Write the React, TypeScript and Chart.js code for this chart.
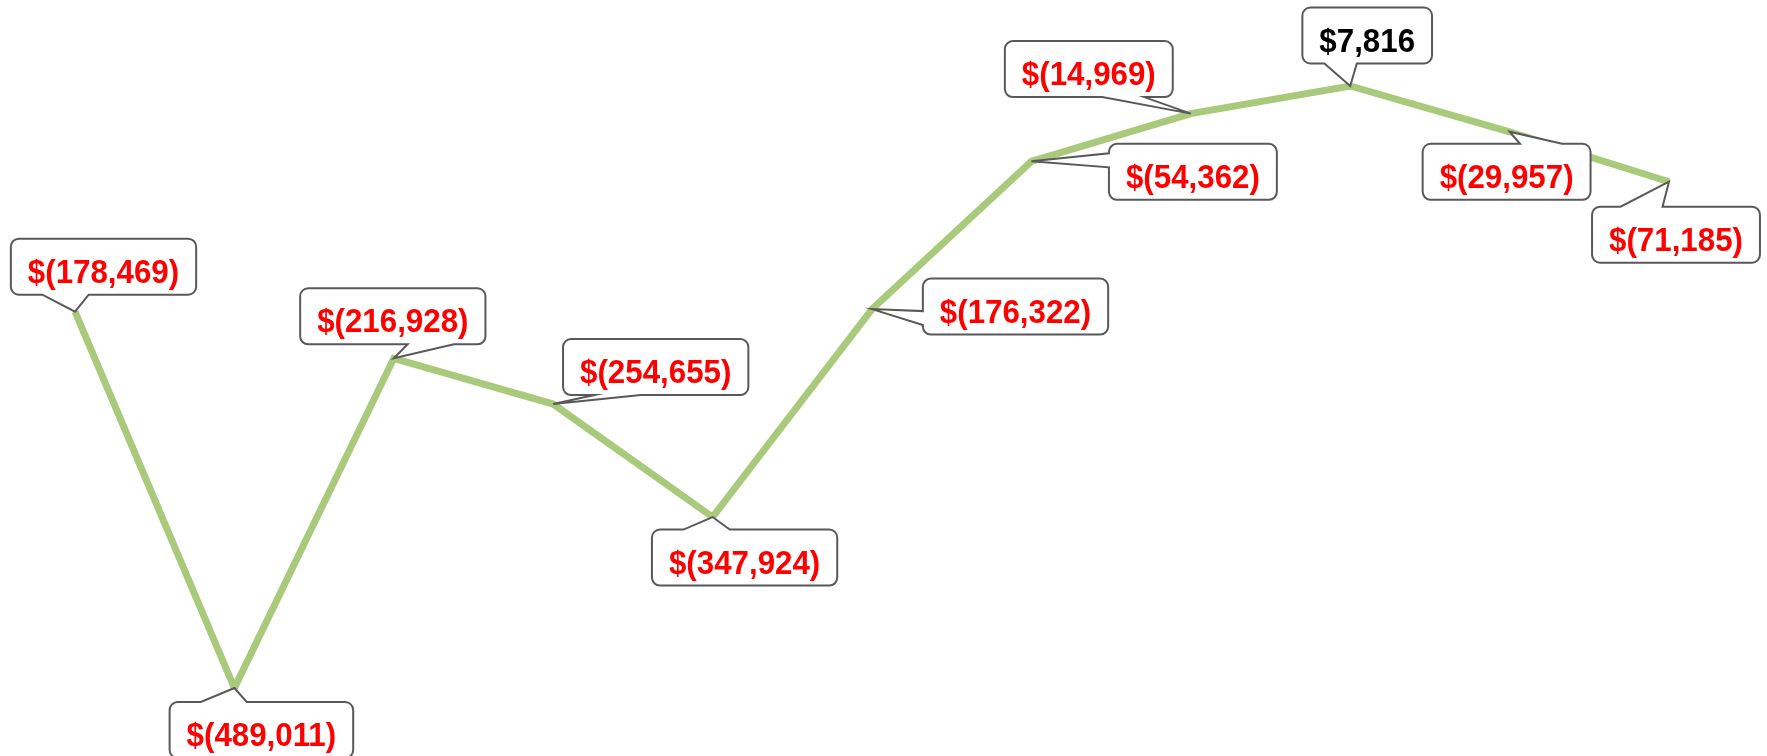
import React, { useEffect, useRef } from "react";
import { Chart, registerables } from "chart.js";

Chart.register(...registerables);

const categories = ["P1", "P2", "P3", "P4", "P5", "P6", "P7", "P8", "P9", "P10", "P11"];
const values = [-178469, -489011, -216928, -254655, -347924, -176322, -54362, -14969, 7816, -29957, -71185];

// callout placement (style only): box centre offset from point, edge carrying the wedge, which part of the edge
const calloutDx = [28.5, 27, -1, 102.5, 32, 143.5, 161.5, -102, 17, -3, 7];
const calloutDy = [-45, 42, -42, -37, 40.5, -2.5, 10.5, -44.5, -50.5, 40, 53];
const calloutEdge = ["bottom", "top", "bottom", "bottom", "top", "left", "left", "bottom", "bottom", "top", "top"];
const calloutSide = ["a", "a", "b", "a", "a", "b", "a", "b", "a", "b", "a"];

const fmt = (v: number) => {
  const s = Math.abs(v).toLocaleString("en-US");
  return v < 0 ? `$(${s})` : `$${s}`;
};

const TEXT_SCALE = 0.92;

const calloutPlugin = {
  id: "callouts",
  afterDatasetsDraw(chart: any) {
    const ctx = chart.ctx as CanvasRenderingContext2D;
    const meta = chart.getDatasetMeta(0);
    ctx.save();
    ctx.font = "bold 34px 'Liberation Sans', Arial, sans-serif";
    meta.data.forEach((pt: any, i: number) => {
      const v = values[i];
      const text = fmt(v);
      const tw = ctx.measureText(text).width * TEXT_SCALE;
      const w = tw + 34;
      const h = 56;
      const cx = pt.x + calloutDx[i];
      const cy = pt.y + calloutDy[i];
      const x0 = cx - w / 2, x1 = cx + w / 2, y0 = cy - h / 2, y1 = cy + h / 2;
      const r = 8;
      const edge = calloutEdge[i];
      const f = calloutSide[i] === "a" ? [0.17, 0.42] : [0.58, 0.83];
      const tx = pt.x, ty = pt.y;
      ctx.beginPath();
      ctx.moveTo(x0 + r, y0);
      if (edge === "top") {
        ctx.lineTo(x0 + w * f[0], y0);
        ctx.lineTo(tx, ty);
        ctx.lineTo(x0 + w * f[1], y0);
      }
      ctx.lineTo(x1 - r, y0);
      ctx.arcTo(x1, y0, x1, y0 + r, r);
      ctx.lineTo(x1, y1 - r);
      ctx.arcTo(x1, y1, x1 - r, y1, r);
      if (edge === "bottom") {
        ctx.lineTo(x0 + w * f[1], y1);
        ctx.lineTo(tx, ty);
        ctx.lineTo(x0 + w * f[0], y1);
      }
      ctx.lineTo(x0 + r, y1);
      ctx.arcTo(x0, y1, x0, y1 - r, r);
      if (edge === "left") {
        ctx.lineTo(x0, y0 + h * f[1]);
        ctx.lineTo(tx, ty);
        ctx.lineTo(x0, y0 + h * f[0]);
      }
      ctx.lineTo(x0, y0 + r);
      ctx.arcTo(x0, y0, x0 + r, y0, r);
      ctx.closePath();
      ctx.fillStyle = "#ffffff";
      ctx.fill();
      ctx.lineWidth = 2;
      ctx.strokeStyle = "#595959";
      ctx.lineJoin = "miter";
      ctx.stroke();
      ctx.fillStyle = v < 0 ? "#ff0000" : "#000000";
      ctx.textAlign = "center";
      ctx.textBaseline = "alphabetic";
      ctx.save();
      ctx.translate(cx, cy + 16);
      ctx.scale(TEXT_SCALE, 1);
      ctx.fillText(text, 0, 0);
      ctx.restore();
    });
    ctx.restore();
  },
};

export default function App() {
  const ref = useRef<HTMLCanvasElement | null>(null);
  useEffect(() => {
    if (!ref.current) return;
    const chart = new Chart(ref.current, {
      type: "line",
      data: {
        labels: categories,
        datasets: [
          {
            data: values,
            borderColor: "#a9c97b",
            borderWidth: 7,
            pointRadius: 0,
            tension: 0,
            fill: false,
          },
        ],
      },
      options: {
        animation: false,
        responsive: false,
        layout: { padding: { left: 75, right: 98, top: 0, bottom: 0 } },
        plugins: { legend: { display: false }, tooltip: { enabled: false } },
        scales: {
          x: { display: false, offset: false },
          y: { display: false, min: -545126, max: 78791 },
        },
      },
      plugins: [calloutPlugin],
    });
    return () => chart.destroy();
  }, []);
  return (
    <div style={{ position: "absolute", left: 0, top: 0, width: 1767, height: 756, background: "#fff" }}>
      <canvas ref={ref} width={1767} height={756} style={{ display: "block" }} />
    </div>
  );
}
